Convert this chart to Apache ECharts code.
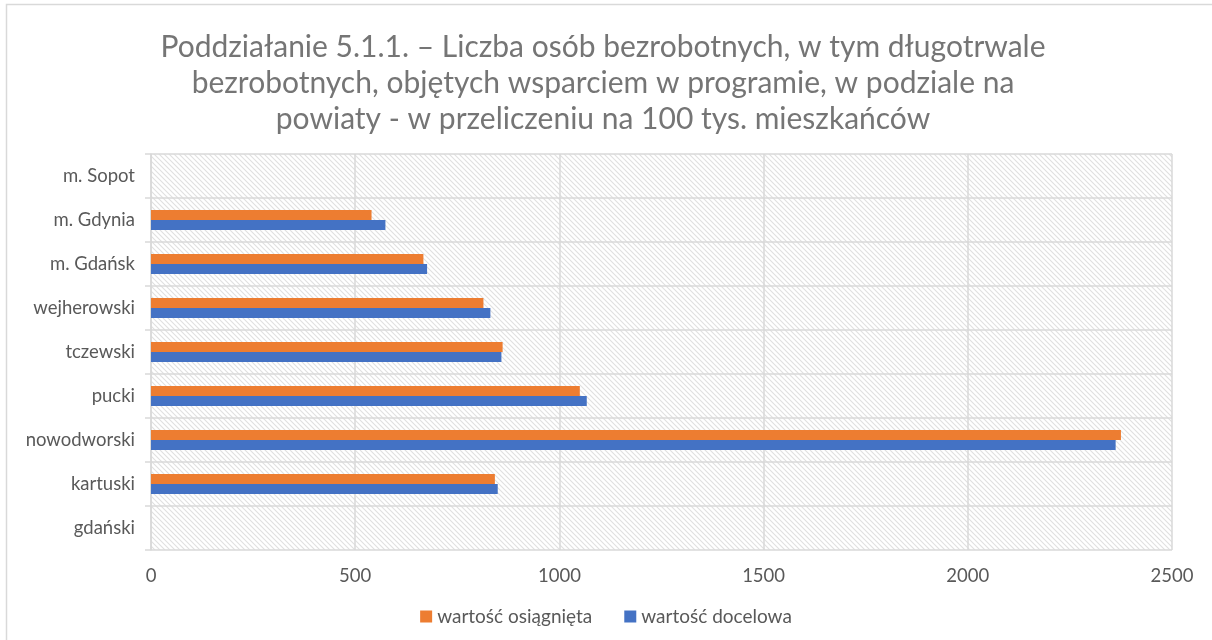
<!DOCTYPE html>
<html>
<head>
<meta charset="utf-8">
<script src="https://cdn.jsdelivr.net/npm/echarts@6/dist/echarts.min.js"></script>
<style>
  html, body { margin: 0; padding: 0; background: #fff; }
  #main { width: 1212px; height: 640px; }
</style>
</head>
<body>
<div id="main"></div>
<script>
var powiaty = ['gdański', 'kartuski', 'nowodworski', 'pucki', 'tczewski', 'wejherowski', 'm. Gdańsk', 'm. Gdynia', 'm. Sopot'];
var osiagnieta = [0, 842, 2375, 1050, 861, 814, 667, 540, 0];
var docelowa = [0, 849, 2362, 1067, 858, 831, 676, 574, 0];
var xTicks = [0, 500, 1000, 1500, 2000, 2500];

// ukośne kreskowanie tła jak w Excelu
var kafel = document.createElement('canvas');
kafel.width = 5;
kafel.height = 5;
var c = kafel.getContext('2d');
c.fillStyle = '#ffffff';
c.fillRect(0, 0, 5, 5);
c.strokeStyle = '#e0e0e0';
c.lineWidth = 1.1;
c.beginPath();
c.moveTo(-1, -1); c.lineTo(6, 6);
c.moveTo(-4, 1); c.lineTo(4, 9);
c.moveTo(1, -4); c.lineTo(9, 4);
c.stroke();

var myChart = echarts.init(document.getElementById('main'));
var option = {
    animation: false,
    title: {
        text: 'Poddziałanie 5.1.1. – Liczba osób bezrobotnych, w tym długotrwale\nbezrobotnych, objętych wsparciem w programie, w podziale na\npowiaty - w przeliczeniu na 100 tys. mieszkańców',
        left: 598,
        textAlign: 'center',
        top: 24,
        textStyle: {
            fontFamily: 'Lato',
            fontWeight: 'normal',
            fontSize: 30,
            lineHeight: 36,
            color: '#757575'
        }
    },
    graphic: [{
        type: 'rect',
        shape: { x: 6.5, y: 4.5, width: 1300, height: 700 },
        style: { fill: 'none', stroke: '#d9d9d9', lineWidth: 1.5 },
        silent: true
    }],
    legend: {
        bottom: 9,
        left: 'center',
        itemWidth: 12,
        itemHeight: 12,
        itemGap: 32,
        icon: 'rect',
        textStyle: { fontFamily: 'Lato', fontSize: 19, color: '#595959' },
        data: ['wartość osiągnięta', 'wartość docelowa']
    },
    grid: {
        left: 151,
        right: 40,
        top: 154,
        bottom: 90,
        show: true,
        borderWidth: 0,
        backgroundColor: { image: kafel, repeat: 'repeat' }
    },
    xAxis: {
        type: 'value',
        min: 0,
        max: 2500,
        interval: 500,
        axisLine: { show: false },
        axisTick: { show: false },
        axisLabel: {
            fontFamily: 'Lato', fontSize: 18.5, color: '#595959', margin: 17,
            formatter: function (v) { return xTicks.indexOf(v) >= 0 ? String(v) : ''; }
        },
        splitLine: { show: true, lineStyle: { color: '#d9d9d9', width: 1.5 } }
    },
    yAxis: {
        type: 'category',
        data: powiaty,
        axisLine: { show: true, lineStyle: { color: '#d9d9d9', width: 1.5 } },
        axisTick: { show: true, length: 6, lineStyle: { color: '#d9d9d9', width: 1.5 } },
        axisLabel: { fontFamily: 'Lato', fontSize: 18.5, color: '#595959', margin: 16 },
        splitLine: { show: true, lineStyle: { color: '#d9d9d9', width: 1.5 } }
    },
    series: [
        {
            name: 'wartość osiągnięta',
            type: 'bar',
            data: osiagnieta,
            barWidth: 10,
            barGap: '0%',
            itemStyle: { color: '#ed7d31' }
        },
        {
            name: 'wartość docelowa',
            type: 'bar',
            data: docelowa,
            barWidth: 10,
            barGap: '0%',
            itemStyle: { color: '#4472c4' }
        }
    ]
};
myChart.setOption(option);
</script>
</body>
</html>
